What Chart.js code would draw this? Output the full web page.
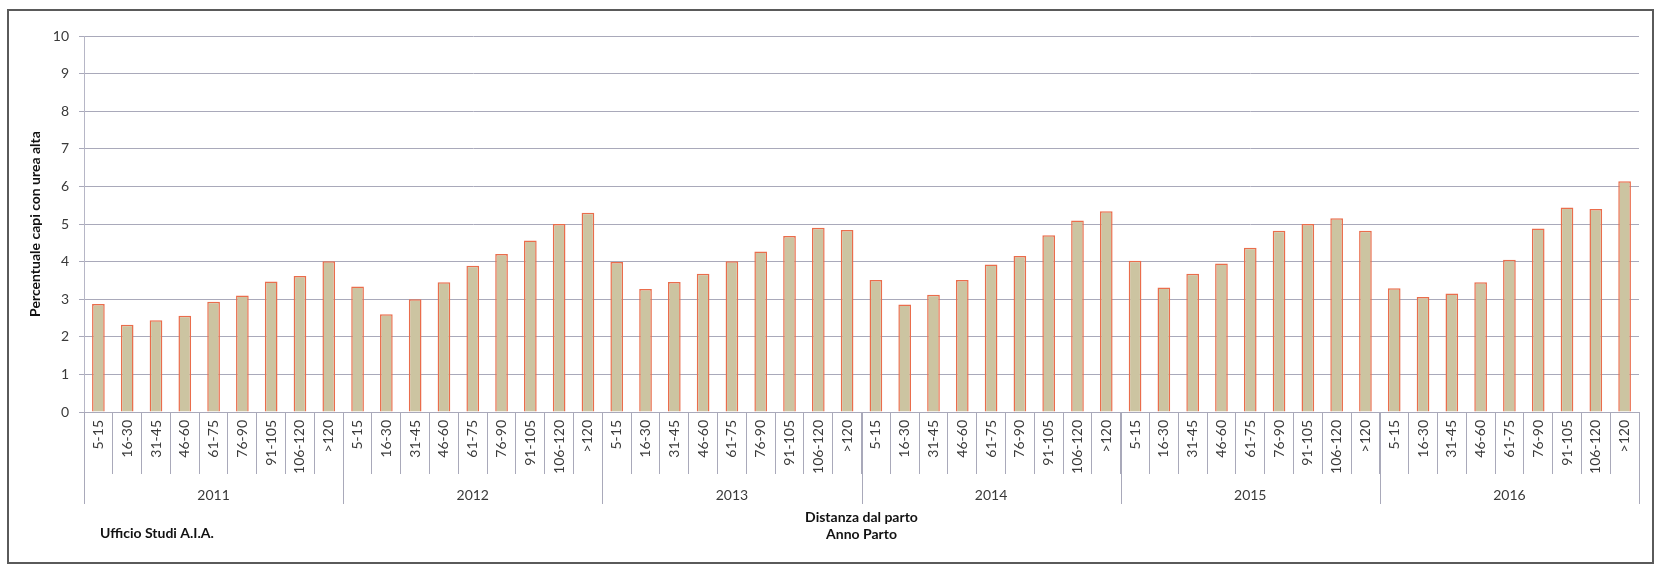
<!DOCTYPE html>
<html>
<head>
<meta charset="utf-8">
<script src="https://cdn.jsdelivr.net/npm/chart.js@4/dist/chart.umd.min.js"></script>
<style>
  html, body { margin: 0; padding: 0; background: #fff; }
  canvas { display: block; }
</style>
</head>
<body>
<canvas id="ureaChart" width="1658" height="568"></canvas>
<script>
const bins = ['5-15', '16-30', '31-45', '46-60', '61-75', '76-90', '91-105', '106-120', '>120'];
const years = ['2011', '2012', '2013', '2014', '2015', '2016'];

// percentuale capi con urea alta, per anno parto
const values2011 = [2.87, 2.32, 2.44, 2.56, 2.93, 3.10, 3.47, 3.62, 4.01];
const values2012 = [3.34, 2.60, 3.00, 3.45, 3.89, 4.20, 4.56, 5.00, 5.30];
const values2013 = [3.99, 3.27, 3.46, 3.68, 4.01, 4.27, 4.68, 4.90, 4.84];
const values2014 = [3.51, 2.86, 3.12, 3.51, 3.92, 4.15, 4.70, 5.09, 5.34];
const values2015 = [4.02, 3.31, 3.68, 3.95, 4.37, 4.82, 5.00, 5.15, 4.82];
const values2016 = [3.29, 3.06, 3.15, 3.45, 4.05, 4.88, 5.44, 5.40, 6.14];

const yTicks = [0, 1, 2, 3, 4, 5, 6, 7, 8, 9, 10];

const yTitle = 'Percentuale capi con urea alta';
const xTitle = ['Distanza dal parto', 'Anno Parto'];
const sourceNote = 'Ufficio Studi A.I.A.';

const labels = [];
years.forEach(y => bins.forEach(b => labels.push(b)));
const values = [].concat(values2011, values2012, values2013, values2014, values2015, values2016);

const gridColor = '#a9a9ba';
const textColor = '#3a3a3a';

// testi extra, separatori degli anni e cornice
const extras = {
  id: 'extras',
  afterDraw(chart) {
    const ctx = chart.ctx;
    const x = chart.scales.x;
    const area = chart.chartArea;
    ctx.save();

    // separatori anni
    ctx.strokeStyle = gridColor;
    ctx.lineWidth = 1;
    for (let k = 0; k <= years.length; k++) {
      const px = Math.round(x.getPixelForValue(k * bins.length - 0.5)) + 0.5;
      ctx.beginPath();
      ctx.moveTo(px, area.bottom);
      ctx.lineTo(px, 504);
      ctx.stroke();
    }

    // etichette anni
    ctx.fillStyle = textColor;
    ctx.font = '14px Lato';
    ctx.textAlign = 'center';
    ctx.textBaseline = 'middle';
    years.forEach((y, k) => {
      ctx.fillText(y, x.getPixelForValue(k * bins.length + (bins.length - 1) / 2), 495);
    });

    // titoli
    ctx.fillStyle = '#111';
    ctx.font = 'bold 14px Lato';
    const cx = (area.left + area.right) / 2;
    ctx.fillText(xTitle[0], cx, 517);
    ctx.fillText(xTitle[1], cx, 534);

    ctx.textAlign = 'left';
    ctx.fillText(sourceNote, 100, 533);

    ctx.translate(35, (area.top + area.bottom) / 2);
    ctx.rotate(-Math.PI / 2);
    ctx.textAlign = 'center';
    ctx.fillText(yTitle, 0, 0);
    ctx.restore();

    // cornice
    ctx.save();
    ctx.strokeStyle = '#5a5a5a';
    ctx.lineWidth = 2;
    ctx.strokeRect(8, 10, 1645, 553);
    ctx.restore();
  }
};

function draw() {
  new Chart(document.getElementById('ureaChart'), {
    type: 'bar',
    data: {
      labels: labels,
      datasets: [{
        data: values,
        backgroundColor: '#ccc4a1',
        borderColor: '#ea6d4c',
        borderWidth: 1.5,
        barPercentage: 0.44,
        categoryPercentage: 1
      }]
    },
    options: {
      responsive: false,
      animation: false,
      layout: { padding: { left: 0, top: 36, right: 19, bottom: 0 } },
      plugins: {
        legend: { display: false },
        tooltip: { enabled: false }
      },
      scales: {
        x: {
          grid: {
            offset: true,
            drawOnChartArea: false,
            drawTicks: true,
            tickLength: 62,
            color: gridColor
          },
          border: { color: gridColor },
          ticks: {
            autoSkip: false,
            minRotation: 90,
            maxRotation: 90,
            padding: -54,
            color: textColor,
            font: { family: 'Lato', size: 14 }
          },
          afterFit(scale) { scale.height = 156; }
        },
        y: {
          min: 0,
          max: 10,
          afterBuildTicks(scale) { scale.ticks = yTicks.map(v => ({ value: v })); },
          grid: {
            color: gridColor,
            tickLength: 5
          },
          border: { color: '#b6b6c6' },
          ticks: {
            padding: 10,
            color: textColor,
            font: { family: 'Lato', size: 14 }
          },
          afterFit(scale) { scale.width = 84; }
        }
      }
    },
    plugins: [extras]
  });
}

Promise.all([
  document.fonts.load('14px Lato'),
  document.fonts.load('bold 14px Lato')
]).then(draw, draw);
</script>
</body>
</html>
